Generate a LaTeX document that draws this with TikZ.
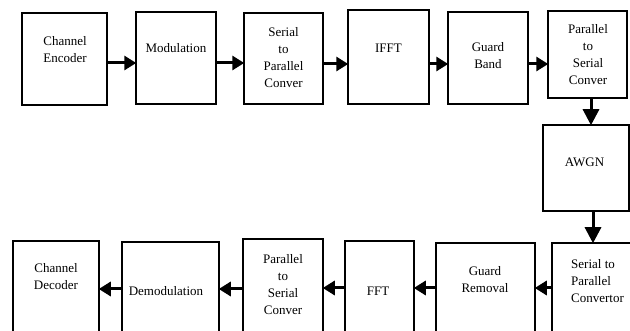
\documentclass[tikz,border=0pt]{standalone}
\usepackage{fontspec}
\setmainfont{Liberation Serif}
\usetikzlibrary{arrows.meta}
\tikzset{
  blk/.style={draw, line width=1.5pt, inner sep=0pt},
  lbl/.style={align=center, inner sep=0pt, font=\fontsize{13}{17}\selectfont},
  arr/.style={line width=3pt, -{Triangle[length=12pt,width=14pt]}, shorten >=-1pt},
  varr/.style={line width=3pt, -{Triangle[length=16pt,width=16pt]}, shorten >=-1pt}
}
\begin{document}
\begin{tikzpicture}[x=1pt,y=-1pt]
\useasboundingbox (0,0) rectangle (630,331);
\clip (0,0) rectangle (630,331);
% top row
\node[blk, minimum width=85pt, minimum height=92pt] (b1) at (64.5,59) {};
\node[blk, minimum width=80pt, minimum height=92pt] (b2) at (176,58) {};
\node[blk, minimum width=79pt, minimum height=91pt] (b3) at (283.5,58.5) {};
\node[blk, minimum width=81pt, minimum height=94pt] (b4) at (388.5,57) {};
\node[blk, minimum width=80pt, minimum height=92pt] (b5) at (488,58) {};
\node[blk, minimum width=79pt, minimum height=87pt] (b6) at (587.5,54.5) {};
\node[blk, minimum width=86pt, minimum height=86pt] (aw) at (586,168) {};
% bottom row
\node[blk, minimum width=98pt, minimum height=102pt] (c1) at (601,294) {};
\node[blk, minimum width=99pt, minimum height=102pt] (c2) at (485.5,294) {};
\node[blk, minimum width=69pt, minimum height=104pt] (c3) at (379.5,293) {};
\node[blk, minimum width=80pt, minimum height=106pt] (c4) at (283,292) {};
\node[blk, minimum width=97pt, minimum height=103pt] (c5) at (170.5,293.5) {};
\node[blk, minimum width=86pt, minimum height=104pt] (c6) at (56,293) {};
% labels
\node[lbl] (t1) at (65,50) {Channel\\Encoder};
\node[lbl] (t2) at (176,48) {Modulation};
\node[lbl] (t3) at (283.5,58) {Serial\\to\\Parallel\\Conver};
\node[lbl] (t4) at (388.5,48) {IFFT};
\node[lbl] (t5) at (488,56) {Guard\\Band};
\node[lbl] (t6) at (588,55) {Parallel\\to\\Serial\\Conver};
\node[lbl] (tw) at (584.5,162) {AWGN};
\node[lbl, align=left, anchor=west] (u1) at (571,281) {Serial to\\Parallel\\Convertor};
\node[lbl] (u2) at (485,280) {Guard\\Removal};
\node[lbl] (u3) at (378,291) {FFT};
\node[lbl] (u4) at (283,285) {Parallel\\to\\Serial\\Conver};
\node[lbl] (u5) at (166,291) {Demodulation};
\node[lbl] (u6) at (56,277) {Channel\\Decoder};
% arrows top
\draw[arr] (b1.east |- 0,63) -- (b2.west |- 0,63);
\draw[arr] (b2.east |- 0,63) -- (b3.west |- 0,63);
\draw[arr] (b3.east |- 0,64) -- (b4.west |- 0,64);
\draw[arr] (b4.east |- 0,64) -- (b5.west |- 0,64);
\draw[arr] (b5.east |- 0,64) -- (b6.west |- 0,64);
\draw[varr] (b6.south -| 591,0) -- (aw.north -| 591,0);
\draw[varr] (aw.south -| 593,0) -- (c1.north -| 593,0);
% arrows bottom
\draw[arr] (c1.west |- 0,288) -- (c2.east |- 0,288);
\draw[arr] (c2.west |- 0,288) -- (c3.east |- 0,288);
\draw[arr] (c3.west |- 0,288) -- (c4.east |- 0,288);
\draw[arr] (c4.west |- 0,289) -- (c5.east |- 0,289);
\draw[arr] (c5.west |- 0,289) -- (c6.east |- 0,289);
\end{tikzpicture}
\end{document}
